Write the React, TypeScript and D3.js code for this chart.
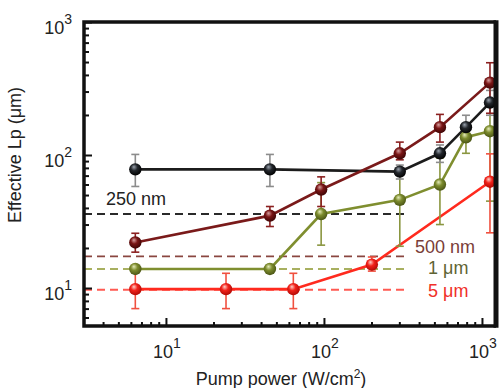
import React, { useEffect, useRef } from 'react';
import * as d3 from 'd3';

// pump power (W/cm2) and effective Lp (um) per wire diameter
const power250 = [6.4, 45.5, 302, 542, 792, 1124];
const lp250 = [78, 78, 75, 103, 162, 248];
const lo250 = [58, 58, 66, 88, 129, 199];
const hi250 = [101, 101, 84, 119, 199, 306];

const power500 = [6.4, 45.5, 96, 302, 542, 1124];
const lp500 = [22, 35, 55, 103, 162, 350];
const lo500 = [18.6, 29, 41, 92, 125, 206];
const hi500 = [25.8, 41, 68.5, 125, 202, 494];

const power1um = [6.4, 45.5, 96, 302, 542, 792, 1124];
const lp1um = [13.9, 13.9, 36, 46, 60, 136, 151];
const lo1um = [13.2, 13.2, 21, 20.6, 30, 103, 45];
const hi1um = [14.6, 14.6, 62, 73, 95, 159, 257];

const power5um = [6.4, 24, 64, 201, 1124];
const lp5um = [9.8, 9.8, 9.8, 15, 63];
const lo5um = [7, 7, 7, 13.4, 26];
const hi5um = [13.6, 12.9, 12.9, 17.1, 102];

// dark-limit levels (dashed) and where they stop
const levelNames = ['250 nm', '500 nm', '1 \u03bcm', '5 \u03bcm'];
const levelValues = [36, 17.3, 13.9, 9.7];
const levelEnd = 340;

const xTicksMajor = [10, 100, 1000];
const yTicksMajor = [10, 100, 1000];

const App = () => {
  const svgRef = useRef(null);

  useEffect(() => {
    const svg = d3.select(svgRef.current);
    svg.selectAll('*').remove();

    const width = 501;
    const height = 388;
    const left = 84, right = 496, top = 22, bottom = 326;

    svg.attr('width', width).attr('height', height)
      .style('font-family', '"Liberation Sans", Arial, sans-serif');

    const x = d3.scaleLog().domain([3.03, 1227]).range([left, right]);
    const y = d3.scaleLog().domain([5.18, 1000]).range([bottom, top]);

    const series = [
      { key: 'olive', power: power1um, lp: lp1um, lo: lo1um, hi: hi1um,
        line: '#7f8e2f', bar: '#8a9640', base: '#7d8c2e', light: '#e4ebb8', dark: '#4a5515' },
      { key: 'red', power: power5um, lp: lp5um, lo: lo5um, hi: hi5um,
        line: '#ff2a1e', bar: '#f0503f', base: '#f2221a', light: '#ffd0c8', dark: '#b00a05' },
      { key: 'black', power: power250, lp: lp250, lo: lo250, hi: hi250,
        line: '#1c1c1c', bar: '#8c8c8c', base: '#23272c', light: '#9aa2ad', dark: '#000000' },
      { key: 'darkred', power: power500, lp: lp500, lo: lo500, hi: hi500,
        line: '#7a1a1a', bar: '#8b2020', base: '#7a1616', light: '#d8a0a0', dark: '#3e0505' },
    ];

    // sphere gradients
    const defs = svg.append('defs');
    series.forEach(s => {
      const g = defs.append('radialGradient')
        .attr('id', `ball-${s.key}`)
        .attr('cx', '45%').attr('cy', '40%').attr('r', '60%')
        .attr('fx', '38%').attr('fy', '30%');
      g.append('stop').attr('offset', '0%').attr('stop-color', s.light);
      g.append('stop').attr('offset', '45%').attr('stop-color', s.base);
      g.append('stop').attr('offset', '100%').attr('stop-color', s.dark);
    });

    // dashed levels
    const levelColors = ['#2a2a2a', '#8a4640', '#a8b060', '#ff5a52'];
    svg.append('g').selectAll('line')
      .data(levelValues)
      .enter()
      .append('line')
      .attr('x1', left)
      .attr('x2', x(levelEnd))
      .attr('y1', d => y(d))
      .attr('y2', d => y(d))
      .attr('stroke', (d, i) => levelColors[i])
      .attr('stroke-width', 1.8)
      .attr('stroke-dasharray', '8,5');

    // ticks
    const minor = (lo, hi) => {
      const out = [];
      for (let e = 0; e < 4; e++) {
        for (let k = 1; k <= 9; k++) {
          const v = k * Math.pow(10, e);
          if (v >= lo && v <= hi && k !== 1) out.push(v);
        }
      }
      return out;
    };

    const axisG = svg.append('g');
    axisG.append('g')
      .attr('transform', `translate(0,${bottom})`)
      .call(d3.axisBottom(x).tickValues(minor(3.03, 1227)).tickSize(-4).tickFormat(() => ''));
    axisG.append('g')
      .attr('transform', `translate(0,${bottom})`)
      .call(d3.axisBottom(x).tickValues(xTicksMajor).tickSize(-8).tickFormat(() => ''));
    axisG.append('g')
      .attr('transform', `translate(${left},0)`)
      .call(d3.axisLeft(y).tickValues(minor(5.18, 1000)).tickSize(-5).tickFormat(() => ''));
    axisG.append('g')
      .attr('transform', `translate(${left},0)`)
      .call(d3.axisLeft(y).tickValues(yTicksMajor).tickSize(-8).tickFormat(() => ''));
    axisG.selectAll('.domain').remove();
    axisG.selectAll('.tick line').attr('stroke', '#111').attr('stroke-width', 2);

    // series lines
    const line = d3.line()
      .x(d => x(d[0]))
      .y(d => y(d[1]));

    series.forEach(s => {
      const pts = s.power.map((p, i) => [p, s.lp[i]]);
      svg.append('path')
        .datum(pts)
        .attr('fill', 'none')
        .attr('stroke', s.line)
        .attr('stroke-width', 2.6)
        .attr('d', line);
    });

    // error bars
    series.forEach(s => {
      const g = svg.append('g').attr('stroke', s.bar).attr('stroke-width', 1.6);
      s.power.forEach((p, i) => {
        const cx = x(p);
        g.append('line').attr('x1', cx).attr('x2', cx).attr('y1', y(s.lo[i])).attr('y2', y(s.hi[i]));
        g.append('line').attr('x1', cx - 4).attr('x2', cx + 4).attr('y1', y(s.lo[i])).attr('y2', y(s.lo[i]));
        g.append('line').attr('x1', cx - 4).attr('x2', cx + 4).attr('y1', y(s.hi[i])).attr('y2', y(s.hi[i]));
      });
    });

    // points
    series.forEach(s => {
      svg.append('g').selectAll('circle')
        .data(s.power.map((p, i) => [p, s.lp[i]]))
        .enter()
        .append('circle')
        .attr('cx', d => x(d[0]))
        .attr('cy', d => y(d[1]))
        .attr('r', 6.2)
        .attr('fill', `url(#ball-${s.key})`);
    });

    // frame
    const frame = svg.append('g').attr('stroke', '#111').attr('fill', 'none');
    frame.append('path')
      .attr('d', `M${right},${top}H${left}V${bottom}H${right}`)
      .attr('stroke-width', 3.5);
    frame.append('line')
      .attr('x1', right).attr('x2', right).attr('y1', top - 1.75).attr('y2', bottom + 1.75)
      .attr('stroke-width', 5);

    // tick labels
    xTicksMajor.forEach((v, i) => {
      const t = svg.append('text')
        .attr('x', x(v) + 1)
        .attr('y', 358)
        .attr('text-anchor', 'middle')
        .attr('fill', '#222')
        .style('font-size', '18px');
      t.append('tspan').text('10');
      t.append('tspan').attr('dy', -10).style('font-size', '14px').text(String(i + 1));
    });
    yTicksMajor.forEach((v, i) => {
      const t = svg.append('text')
        .attr('x', 72)
        .attr('y', y(v) + 12)
        .attr('text-anchor', 'end')
        .attr('fill', '#222')
        .style('font-size', '18px');
      t.append('tspan').text('10');
      t.append('tspan').attr('dy', -10).style('font-size', '14px').text(String(i + 1));
    });

    // level labels
    const labelPos = [[106, 205], [415, 253], [428, 274], [428, 297]];
    const labelColors = ['#222', '#7a3d38', '#5f6434', '#f0302a'];
    levelNames.forEach((n, i) => {
      svg.append('text')
        .attr('x', labelPos[i][0])
        .attr('y', labelPos[i][1])
        .attr('fill', labelColors[i])
        .style('font-size', '18px')
        .text(n);
    });

    // axis titles
    const xt = svg.append('text')
      .attr('x', 281)
      .attr('y', 385)
      .attr('text-anchor', 'middle')
      .attr('fill', '#222')
      .style('font-size', '18px');
    xt.append('tspan').text('Pump power (W/cm');
    xt.append('tspan').attr('dy', -7).style('font-size', '12px').text('2');
    xt.append('tspan').attr('dy', 7).text(')');

    svg.append('text')
      .attr('transform', 'translate(21,155) rotate(-90)')
      .attr('text-anchor', 'middle')
      .attr('fill', '#222')
      .style('font-size', '18px')
      .text('Effective Lp (\u03bcm)');
  }, []);

  return (
    <div style={{ position: 'absolute', left: 0, top: 0 }}>
      <svg ref={svgRef}></svg>
    </div>
  );
};

export default App;
